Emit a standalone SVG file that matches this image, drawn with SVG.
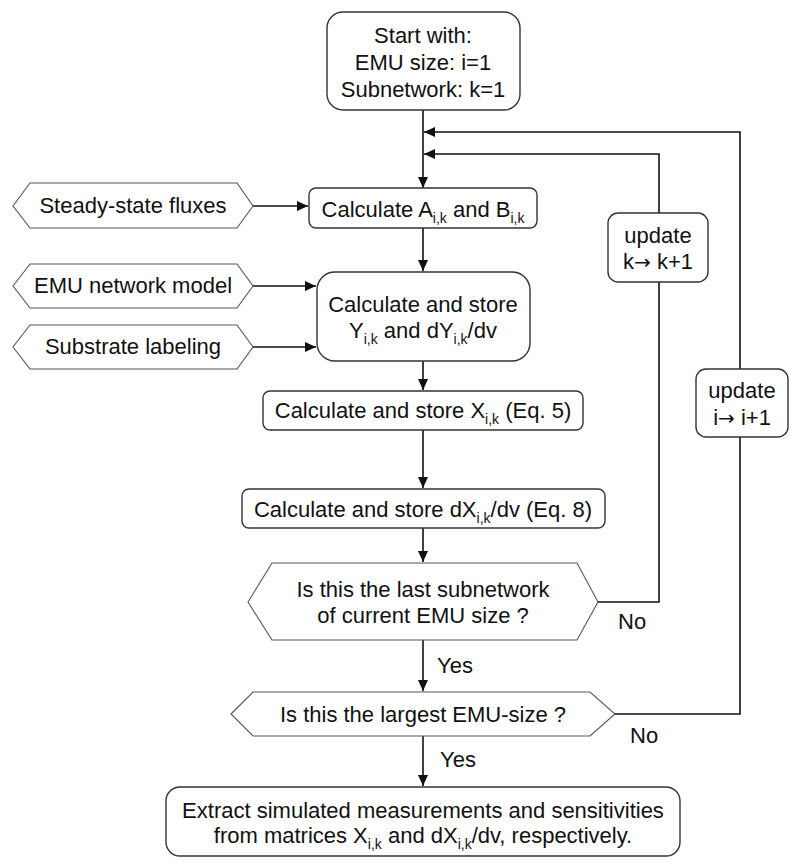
<svg xmlns="http://www.w3.org/2000/svg" width="800" height="865" viewBox="0 0 800 865">
<style>
text{font-family:"Liberation Sans",Arial,sans-serif;font-size:22px;fill:#111;text-anchor:middle}
.lbl{text-anchor:start}
.sub{font-size:14px}
.arr{font-family:"DejaVu Sans",sans-serif;font-size:20px}
.box{fill:#fff;stroke:#333;stroke-width:1.4}
.hex{fill:#fff;stroke:#555;stroke-width:1.1}
.con{fill:none;stroke:#111;stroke-width:1.6}
</style>
<defs>
<marker id="ah" markerUnits="userSpaceOnUse" markerWidth="12" markerHeight="10" refX="11" refY="5" orient="auto">
<path d="M0,0 L11,5 L0,10 Z" fill="#111"/>
</marker>
</defs>
<rect width="800" height="865" fill="#fff"/>
<g id="connectors">
<line class="con" x1="423" y1="110" x2="423" y2="188" marker-end="url(#ah)"/>
<line class="con" x1="423" y1="228" x2="423" y2="271" marker-end="url(#ah)"/>
<line class="con" x1="423" y1="361" x2="423" y2="390" marker-end="url(#ah)"/>
<line class="con" x1="423" y1="430" x2="423" y2="488" marker-end="url(#ah)"/>
<line class="con" x1="423" y1="528" x2="423" y2="562" marker-end="url(#ah)"/>
<line class="con" x1="423" y1="640" x2="423" y2="691" marker-end="url(#ah)"/>
<line class="con" x1="423" y1="736" x2="423" y2="786" marker-end="url(#ah)"/>
<line class="con" x1="253" y1="206" x2="308" y2="206" marker-end="url(#ah)"/>
<line class="con" x1="253" y1="286" x2="316" y2="286" marker-end="url(#ah)"/>
<line class="con" x1="253" y1="347" x2="316" y2="347" marker-end="url(#ah)"/>
<polyline class="con" points="598,602 659,602 659,154 424,154" marker-end="url(#ah)"/>
<polyline class="con" points="615,714 740,714 740,132 424,132" marker-end="url(#ah)"/>
<text class="lbl" x="618" y="629">No</text>
<text class="lbl" x="630" y="743">No</text>
<text class="lbl" x="437" y="673">Yes</text>
<text class="lbl" x="440" y="767">Yes</text>
</g>
<g id="start">
<rect class="box" x="327" y="12" width="193" height="98" rx="16"/>
<text x="423" y="43">Start with:</text>
<text x="423" y="70">EMU size: i=1</text>
<text x="423" y="97">Subnetwork: k=1</text>
</g>
<g id="steady">
<polygon class="hex" points="13,206 30,183 237,183 253,206 237,228 30,228"/>
<text x="133" y="213">Steady-state fluxes</text>
</g>
<g id="emunet">
<polygon class="hex" points="13,286 30,264 237,264 253,286 237,308 30,308"/>
<text x="133" y="293">EMU network model</text>
</g>
<g id="substrate">
<polygon class="hex" points="13,347 30,325 237,325 253,347 237,369 30,369"/>
<text x="133" y="354">Substrate labeling</text>
</g>
<g id="calcAB">
<rect class="box" x="309" y="188" width="228" height="40" rx="7"/>
<text x="423" y="217">Calculate A<tspan class="sub" dy="6">i,k</tspan><tspan dy="-6"> and B</tspan><tspan class="sub" dy="6">i,k</tspan></text>
</g>
<g id="calcY">
<rect class="box" x="317" y="272" width="213" height="89" rx="18"/>
<text x="423" y="312">Calculate and store</text>
<text x="423" y="338">Y<tspan class="sub" dy="6">i,k</tspan><tspan dy="-6"> and dY</tspan><tspan class="sub" dy="6">i,k</tspan><tspan dy="-6">/dv</tspan></text>
</g>
<g id="calcX">
<rect class="box" x="263" y="391" width="320" height="39" rx="7"/>
<text x="423" y="418">Calculate and store X<tspan class="sub" dy="6">i,k</tspan><tspan dy="-6"> (Eq. 5)</tspan></text>
</g>
<g id="calcdX">
<rect class="box" x="242" y="489" width="363" height="39" rx="7"/>
<text x="423" y="517">Calculate and store dX<tspan class="sub" dy="6">i,k</tspan><tspan dy="-6">/dv (Eq. 8)</tspan></text>
</g>
<g id="lastsub">
<polygon class="hex" points="248,602 272,563 577,563 598,602 577,640 272,640"/>
<text x="423" y="597">Is this the last subnetwork</text>
<text x="423" y="623">of current EMU size ?</text>
</g>
<g id="largest">
<polygon class="hex" points="231,714 253,692 590,692 615,714 590,736 253,736"/>
<text x="423" y="722">Is this the largest EMU-size ?</text>
</g>
<g id="updk">
<rect class="box" x="608" y="213" width="100" height="69" rx="10"/>
<text x="658" y="243">update</text>
<text x="658" y="269">k<tspan class="arr">→</tspan> k+1</text>
</g>
<g id="updi">
<rect class="box" x="696" y="369" width="92" height="68" rx="10"/>
<text x="742" y="398">update</text>
<text x="742" y="425">i<tspan class="arr">→</tspan> i+1</text>
</g>
<g id="extract">
<rect class="box" x="166" y="787" width="514" height="69" rx="14"/>
<text x="423" y="818">Extract simulated measurements and sensitivities</text>
<text x="423" y="843">from matrices X<tspan class="sub" dy="6">i,k</tspan><tspan dy="-6"> and dX</tspan><tspan class="sub" dy="6">i,k</tspan><tspan dy="-6">/dv, respectively.</tspan></text>
</g>
</svg>
